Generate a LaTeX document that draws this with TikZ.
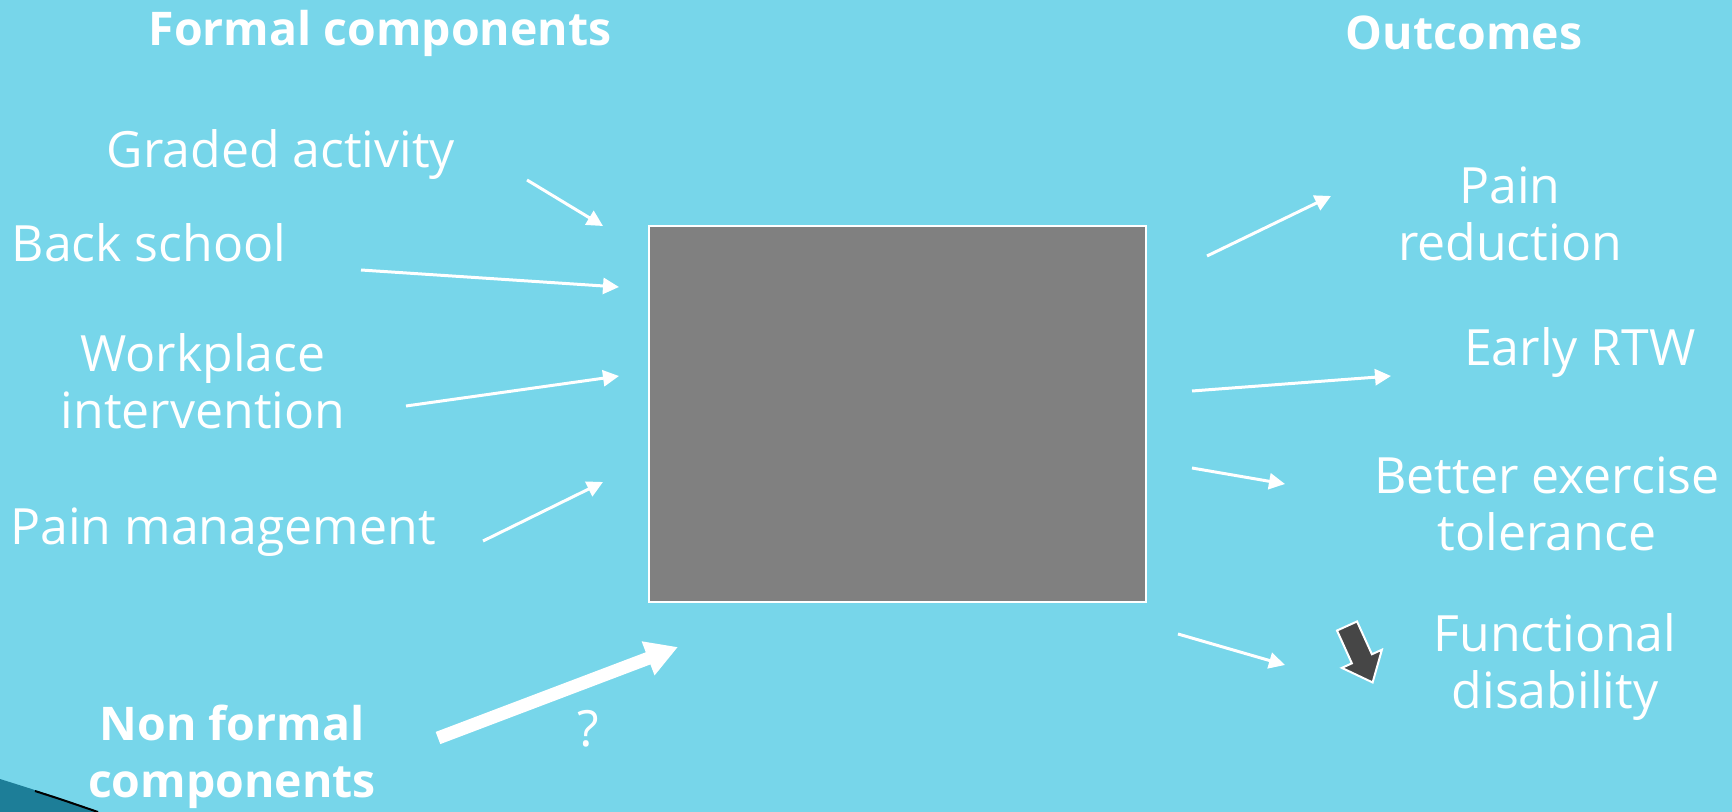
\documentclass[tikz,border=0pt]{standalone}
\usepackage{fontspec}
\setmainfont{Open Sans}
\usetikzlibrary{arrows.meta}
\definecolor{slidecyan}{HTML}{77D6EA}
\definecolor{boxgrey}{HTML}{808080}
\definecolor{downgrey}{HTML}{464646}
\definecolor{cornerteal}{HTML}{1D7E98}
\newcommand{\labelsize}{\fontsize{25}{28.5}\selectfont}
\newcommand{\headsize}{\fontsize{23.2}{28.5}\selectfont}

\begin{document}
\begin{tikzpicture}[
  x=0.5pt,
  y=-0.5pt,
  every node/.style={font=\labelsize, white, inner sep=0pt},
  heading/.style={font=\headsize\bfseries, align=center},
  item/.style={align=center},
  pointer/.style={white, line width=1.5pt, -{Triangle[length=8pt, width=8pt]}},
  bigpointer/.style={white, line width=6.5pt, -{Triangle[length=16pt, width=17pt]}},
  blackbox/.style={draw=white, line width=1pt, fill=boxgrey,
                   minimum width=248.5pt, minimum height=188pt}
]
  % ---- slide background ------------------------------------------------
  \fill[slidecyan] (0,0) rectangle (1732,812);
  \useasboundingbox (0,0) rectangle (1732,812);
  \fill[cornerteal] (0,779) .. controls (35,790) and (70,801) .. (98,812)
    -- (0,812) -- cycle;
  \draw[black, line width=1pt] (35,791) .. controls (60,799) .. (98,812);

  % ---- headings ----------------------------------------------------------
  \node[heading] (formal)   at (380,33)  {Formal components};
  \node[heading] (outcomes) at (1464,33) {Outcomes};

  % ---- the black box -----------------------------------------------------
  \node[blackbox] (box) at (897.5,414) {};

  % ---- formal components (left) ------------------------------------------
  \node[item] (graded)    at (281,155) {Graded activity};
  \node[item] (back)      at (149,243) {Back school};
  \node[item] (workplace) at (203,381) {Workplace\\intervention};
  \node[item] (painmgmt)  at (223,532) {Pain management};
  \node[heading] (nonformal) at (232,757) {Non formal\\components};
  \node (question) at (588,729) {?};

  % ---- outcomes (right) --------------------------------------------------
  \node[item] (painred)    at (1510,214) {Pain\\reduction};
  \node[item] (earlyrtw)   at (1580,353) {Early RTW};
  \node[item] (exercise)   at (1547,504) {Better exercise\\tolerance};
  \node[item] (functional) at (1555,667) {Functional\\disability};

  % ---- arrow ends ----------------------------------------------------------
  \coordinate (graded-a)     at (527,180);
  \coordinate (graded-b)     at (603,226);
  \coordinate (back-a)       at (361,270);
  \coordinate (back-b)       at (619,287);
  \coordinate (workplace-a)  at (406,406);
  \coordinate (workplace-b)  at (619,376);
  \coordinate (painmgmt-a)   at (483,541);
  \coordinate (painmgmt-b)   at (603,482);
  \coordinate (nonformal-a)  at (438,738);
  \coordinate (nonformal-b)  at (678,647);
  \coordinate (painred-a)    at (1207,256);
  \coordinate (painred-b)    at (1331,196);
  \coordinate (earlyrtw-a)   at (1192,391);
  \coordinate (earlyrtw-b)   at (1391,376);
  \coordinate (exercise-a)   at (1192,468);
  \coordinate (exercise-b)   at (1285,484);
  \coordinate (functional-a) at (1178,634);
  \coordinate (functional-b) at (1285,665);

  % ---- arrows --------------------------------------------------------------
  \draw[pointer] (graded-a) -- (graded-b);
  \draw[pointer] (back-a) -- (back-b);
  \draw[pointer] (workplace-a) -- (workplace-b);
  \draw[pointer] (painmgmt-a) -- (painmgmt-b);
  \draw[bigpointer] (nonformal-a) -- (nonformal-b);
  \draw[pointer] (painred-a) -- (painred-b);
  \draw[pointer] (earlyrtw-a) -- (earlyrtw-b);
  \draw[pointer] (exercise-a) -- (exercise-b);
  \draw[pointer] (functional-a) -- (functional-b);

  % ---- the dark down arrow -------------------------------------------------
  \begin{scope}[shift={(1347,626)}, rotate=-65.6]
    \filldraw[fill=downgrey, draw=white, line width=1pt, line join=miter]
      (0,-11) -- (36,-11) -- (36,-22) -- (62,0) -- (36,22) -- (36,11)
      -- (0,11) -- cycle;
  \end{scope}

\end{tikzpicture}
\end{document}
